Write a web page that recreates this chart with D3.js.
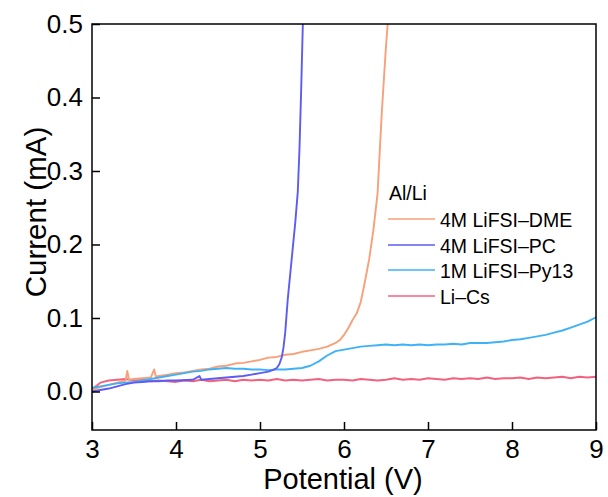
<!DOCTYPE html>
<html>
<head>
<meta charset="utf-8">
<script src="https://cdn.jsdelivr.net/npm/d3@7"></script>
<style>
  body { margin: 0; background: #fff; }
  text { font-family: "Liberation Sans", Arial, sans-serif; fill: #000; }
</style>
</head>
<body>
<svg id="chart" width="608" height="497"></svg>
<script>
// measurement grid (V) for the two long sweeps
var gridV = d3.range(0, 61).map(function (i) { return 3 + i * 0.1; });

var dmeV = [3.00, 3.10, 3.20, 3.30, 3.40, 3.42, 3.44, 3.50, 3.60, 3.70, 3.74, 3.76, 3.80, 3.90, 4.00, 4.10, 4.20, 4.30, 4.40, 4.50,
    4.60, 4.70, 4.80, 4.90, 5.00, 5.10, 5.20, 5.30, 5.40, 5.50, 5.60, 5.70, 5.80, 5.90, 5.95, 6.00, 6.05, 6.10, 6.15, 6.20,
    6.25, 6.30, 6.35, 6.40, 6.45, 6.50, 6.52];
var dmeI = [0.002, 0.006, 0.009, 0.012, 0.015, 0.028, 0.016, 0.017, 0.018, 0.019, 0.030, 0.020, 0.021, 0.023, 0.025, 0.026, 0.028, 0.030, 0.031, 0.034,
    0.035, 0.038, 0.039, 0.041, 0.043, 0.046, 0.047, 0.050, 0.051, 0.054, 0.056, 0.058, 0.061, 0.066, 0.070, 0.077, 0.086, 0.097, 0.106, 0.122,
    0.150, 0.180, 0.220, 0.270, 0.380, 0.470, 0.500];

var pcV = [3.00, 3.10, 3.20, 3.30, 3.40, 3.50, 3.60, 3.70, 3.80, 3.90, 4.00, 4.20, 4.28, 4.30, 4.40, 4.60, 4.80, 4.90, 5.00, 5.10,
    5.15, 5.20, 5.23, 5.26, 5.28, 5.30, 5.33, 5.36, 5.39, 5.42, 5.45, 5.47, 5.49, 5.51];
var pcI = [0.000, 0.002, 0.004, 0.007, 0.010, 0.012, 0.013, 0.014, 0.014, 0.015, 0.015, 0.016, 0.021, 0.016, 0.017, 0.019, 0.021, 0.023, 0.025, 0.027,
    0.029, 0.032, 0.037, 0.047, 0.060, 0.080, 0.125, 0.160, 0.195, 0.230, 0.272, 0.330, 0.410, 0.500];

var py13I = [0.005, 0.007, 0.009, 0.011, 0.012, 0.013, 0.015, 0.017, 0.019, 0.021,
    0.023, 0.025, 0.027, 0.028, 0.030, 0.031, 0.032, 0.031, 0.031, 0.030,
    0.030, 0.029, 0.030, 0.030, 0.031, 0.032, 0.035, 0.041, 0.049, 0.055,
    0.057, 0.059, 0.061, 0.062, 0.063, 0.064, 0.063, 0.064, 0.063, 0.064,
    0.063, 0.064, 0.064, 0.065, 0.064, 0.066, 0.066, 0.066, 0.067, 0.068,
    0.070, 0.071, 0.073, 0.075, 0.077, 0.080, 0.083, 0.087, 0.091, 0.095, 0.101];

var licsI = [0.003, 0.012, 0.015, 0.016, 0.017, 0.015, 0.016, 0.014, 0.015, 0.014,
    0.013, 0.015, 0.014, 0.016, 0.014, 0.015, 0.016, 0.014, 0.016, 0.015,
    0.016, 0.015, 0.017, 0.015, 0.016, 0.015, 0.016, 0.017, 0.015, 0.016,
    0.016, 0.015, 0.017, 0.016, 0.015, 0.016, 0.018, 0.016, 0.017, 0.016,
    0.018, 0.017, 0.016, 0.018, 0.017, 0.018, 0.017, 0.019, 0.017, 0.018,
    0.018, 0.019, 0.017, 0.019, 0.018, 0.019, 0.020, 0.018, 0.020, 0.019, 0.020];

var seriesNames = ['4M LiFSI\u2013DME', '4M LiFSI\u2013PC', '1M LiFSI\u2013Py13', 'Li\u2013Cs'];
var seriesColors = ['#f7a07a', '#5c5cf2', '#3fb2f6', '#f2627f'];
var xTicks = [3, 4, 5, 6, 7, 8, 9];
var yTicks = [0.0, 0.1, 0.2, 0.3, 0.4, 0.5];

var series = [
    {name: seriesNames[0], color: seriesColors[0], v: dmeV, i: dmeI},
    {name: seriesNames[1], color: seriesColors[1], v: pcV, i: pcI},
    {name: seriesNames[2], color: seriesColors[2], v: gridV, i: py13I},
    {name: seriesNames[3], color: seriesColors[3], v: gridV, i: licsI}
];

var margin = {left: 92, top: 24, right: 12, bottom: 67};
var svg = d3.select('#chart');
var W = 608 - margin.left - margin.right, H = 497 - margin.top - margin.bottom;

var x = d3.scaleLinear().domain([3, 9]).range([0, W]);
var y = d3.scaleLinear().domain([-0.0524, 0.5]).range([H, 0]);

var g = svg.append('g').attr('transform', 'translate(' + margin.left + ',' + margin.top + ')');

var defs = svg.append('defs');
defs.append('clipPath').attr('id', 'clip').append('rect').attr('width', W).attr('height', H);

var line = d3.line().x(function (d) { return x(d[0]); }).y(function (d) { return y(d[1]); });

// draw back to front so the order matches the figure
var plotOrder = [3, 0, 2, 1];
plotOrder.forEach(function (k) {
    var s = series[k];
    g.append('path')
        .attr('clip-path', 'url(#clip)')
        .attr('d', line(s.v.map(function (v, j) { return [v, s.i[j]]; })))
        .attr('fill', 'none')
        .attr('stroke', s.color)
        .attr('stroke-width', 1.9)
        .attr('stroke-linejoin', 'round');
});

var xAxis = g.append('g').attr('transform', 'translate(0,' + H + ')')
    .call(d3.axisBottom(x).tickValues(xTicks).tickFormat(d3.format('d')).tickSizeInner(-8).tickSizeOuter(0).tickPadding(10));
var yAxis = g.append('g')
    .call(d3.axisLeft(y).tickValues(yTicks).tickFormat(d3.format('.1f')).tickSizeInner(-8).tickSizeOuter(0).tickPadding(9));

[xAxis, yAxis].forEach(function (a) {
    a.select('.domain').remove();
    a.selectAll('line').attr('stroke', '#000').attr('stroke-width', 1.5);
    a.selectAll('text').style('font-size', '26px').attr('fill', '#000');
});

// frame
g.append('rect').attr('width', W).attr('height', H)
    .attr('fill', 'none').attr('stroke', '#000').attr('stroke-width', 1.5);

svg.append('text').attr('x', 343).attr('y', 489)
    .attr('text-anchor', 'middle').style('font-size', '29px').text('Potential (V)');
svg.append('text').attr('transform', 'translate(46,212) rotate(-90)')
    .attr('text-anchor', 'middle').style('font-size', '29.5px').text('Current (mA)');

// legend
var lg = svg.append('g').attr('transform', 'translate(388,0)');
lg.append('text').attr('x', 1).attr('y', 200).style('font-size', '19.5px').text('Al/Li');
var rowY = [219, 245, 270, 296];
series.forEach(function (s, k) {
    lg.append('line').attr('x1', 0).attr('x2', 47).attr('y1', rowY[k]).attr('y2', rowY[k])
        .attr('stroke', s.color).attr('stroke-width', 1.7);
    lg.append('text').attr('x', 52).attr('y', rowY[k] + 7.5).style('font-size', '19.5px').text(s.name);
});
</script>
</body>
</html>
